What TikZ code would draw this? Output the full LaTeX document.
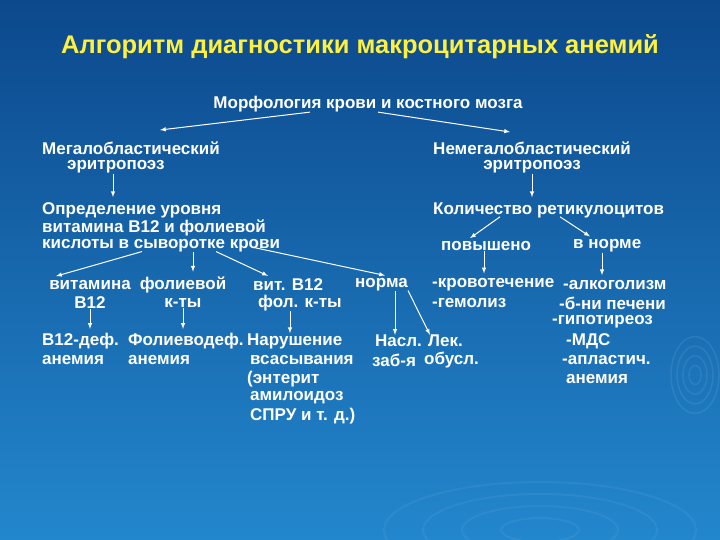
\documentclass[tikz,border=0pt]{standalone}
\usepackage{fontspec}
\setmainfont{Liberation Sans}
\begin{document}
\begin{tikzpicture}[x=1pt,y=-1pt,
 t/.style={text=white,font=\bfseries\fontsize{17}{19}\selectfont,inner sep=0pt,anchor=west},
 tc/.style={t,anchor=center},
 ar/.style={draw=white,line width=1pt,-latex}]
\useasboundingbox (0,0) rectangle (720,540);
\shade[top color={rgb,255:red,12;green,72;blue,140},bottom color={rgb,255:red,35;green,135;blue,205}] (0,0) rectangle (720,540);
\foreach \r in {12,24,36,48}{\draw[white,opacity=0.08,line width=1.5pt] (695,375) ellipse ({\r*0.5} and {\r*0.8});}
\foreach \r in {30,60,90,120}{\draw[white,opacity=0.05,line width=2pt] (540,530) ellipse ({\r*1.3} and {\r*0.4});}
\node[text={rgb,255:red,255;green,240;blue,60},font=\bfseries\fontsize{25.5}{28}\selectfont] (title) at (360,47) {Алгоритм диагностики макроцитарных анемий};
\node[tc] (morph) at (368,104) {Морфология крови и костного мозга};
\node[t] (meg1) at (42,148) {Мегалобластический};
\node[t] (meg2) at (67,167) {эритропоэз};
\node[tc] (nem1) at (532,148) {Немегалобластический};
\node[tc] (nem2) at (532,167) {эритропоэз};
\node[t] (op1) at (42,210) {Определение уровня};
\node[t] (op2) at (42,228) {витамина В12 и фолиевой};
\node[t] (op3) at (42,246) {кислоты в сыворотке крови};
\node[t] (kol) at (433,210) {Количество ретикулоцитов};
\node[t] (pov) at (441,246) {повышено};
\node[t] (vn) at (573,246) {в норме};
\node[tc] (vit1) at (90,285) {витамина};
\node[tc] (vit2) at (90,303) {В12};
\node[tc] (fol1) at (183,285) {фолиевой};
\node[tc] (fol2) at (183,303) {к-ты};
\node[t] (vb1) at (253,285) {вит. В12};
\node[t] (vb2) at (258,303) {фол. к-ты};
\node[t] (norma) at (355,285) {норма};
\node[t] (kr1) at (432,285) {-кровотечение};
\node[t] (kr2) at (432,303) {-гемолиз};
\node[t] (al1) at (563,285) {-алкоголизм};
\node[t] (al2) at (559,303) {-б-ни печени};
\node[t] (al3) at (552,322) {-гипотиреоз};
\node[t] (al4) at (566,341) {-МДС};
\node[t] (al5) at (562,360) {-апластич.};
\node[t] (al6) at (566,379) {анемия};
\node[t] (bd1) at (42,341) {В12-деф.};
\node[t] (bd2) at (42,360) {анемия};
\node[t] (fd1) at (128,341) {Фолиеводеф.};
\node[t] (fd2) at (128,360) {анемия};
\node[t] (nar1) at (247,341) {Нарушение};
\node[t] (nar2) at (250,360) {всасывания};
\node[t] (nar3) at (247,379) {(энтерит};
\node[t] (nar4) at (250,398) {амилоидоз};
\node[t] (nar5) at (250,416) {СПРУ и т. д.)};
\node[t] (nas1) at (375,341) {Насл.};
\node[t] (nas2) at (372,360) {заб-я};
\node[t] (lek1) at (428,341) {Лек.};
\node[t] (lek2) at (424,360) {обусл.};
% connectors
\draw[ar] ([xshift=-58pt,yshift=0pt]morph.south) -- (160,130);
\draw[ar] ([xshift=10pt,yshift=0pt]morph.south) -- (510,132);
\draw[ar] ([xshift=46pt,yshift=0pt]meg2.south west) -- ([xshift=71pt,yshift=5pt]op1.north west);
\draw[ar] ([yshift=0pt]nem2.south) -- ([xshift=99pt,yshift=5pt]kol.north west);
\draw[ar] ([xshift=67pt,yshift=1pt]kol.south west) -- ([xshift=29pt,yshift=3pt]pov.north west);
\draw[ar] ([xshift=127pt,yshift=1pt]kol.south west) -- ([xshift=17pt,yshift=3pt]vn.north west);
\draw[ar] ([xshift=43pt,yshift=0pt]pov.south west) -- ([xshift=52pt,yshift=5pt]kr1.north west);
\draw[ar] ([xshift=29pt,yshift=0pt]vn.south west) -- ([xshift=39pt,yshift=5pt]al1.north west);
\draw[ar] ([xshift=100pt,yshift=1pt]op3.south west) -- ([xshift=-34pt,yshift=4pt]vit1.north);
\draw[ar] ([xshift=151pt,yshift=1pt]op3.south west) -- ([xshift=10pt,yshift=5pt]fol1.north);
\draw[ar] ([xshift=174pt,yshift=1pt]op3.south west) -- ([xshift=15pt,yshift=3pt]vb1.north west);
\draw[ar] ([xshift=212pt,yshift=5pt]op3.south west) -- ([xshift=30pt,yshift=3pt]norma.north west);
\draw[ar] ([yshift=0pt]vit2.south) -- ([xshift=48pt,yshift=4pt]bd1.north west);
\draw[ar] ([yshift=0pt]fol2.south) -- ([xshift=55pt,yshift=4pt]fd1.north west);
\draw[ar] ([xshift=32pt,yshift=0pt]vb2.south west) -- ([xshift=43pt,yshift=0pt]nar1.north west);
\draw[ar] ([xshift=40pt,yshift=1pt]norma.south west) -- ([xshift=20pt,yshift=0pt]nas1.north west);
\draw[ar] ([xshift=53pt,yshift=1pt]norma.south west) -- ([xshift=2pt,yshift=0pt]lek1.north west);
\end{tikzpicture}
\end{document}
